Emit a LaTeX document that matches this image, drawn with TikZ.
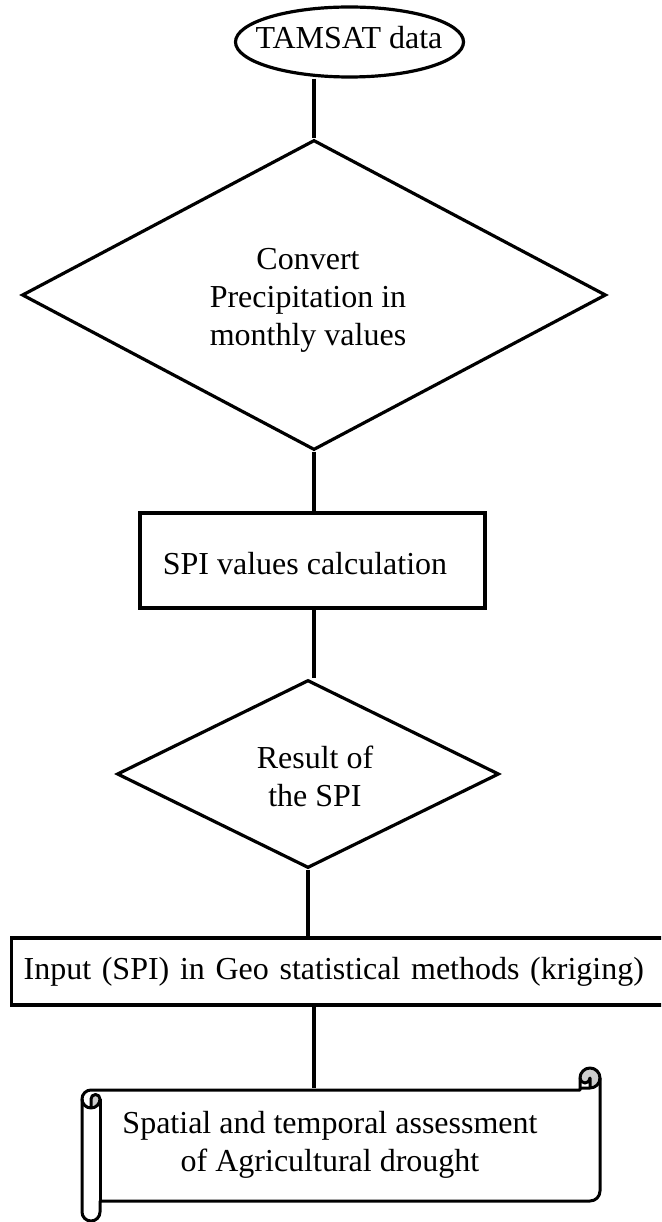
\documentclass[tikz,border=0pt]{standalone}
\usepackage{fontspec}
\setmainfont{Liberation Serif}
\usetikzlibrary{shapes.geometric}
\begin{document}
\begin{tikzpicture}[x=1pt,y=-1pt,line width=3.2pt,
  txt/.style={font=\fontsize{32}{38}\selectfont,align=center,inner sep=0pt},
  shp/.style={draw,line width=3.2pt,inner sep=0pt},
  conn/.style={line width=3.2pt}]
\useasboundingbox (0,0) rectangle (661,1222);
\clip (0,0) rectangle (661,1222);
% ellipse
\node[shp,ellipse,minimum width=228,minimum height=70] (e) at (349.5,42) {};
\node[txt] (etext) at (349,38) {TAMSAT data};
% diamond 1
\node[shp,diamond,minimum width=584,minimum height=310] (d1) at (314,295) {};
\node[txt] (d1text) at (308,300) {Convert\\Precipitation in\\monthly values};
% SPI rectangle
\node[shp,rectangle,minimum width=345,minimum height=95] (r1) at (312.5,560.5) {};
\node[txt] (r1text) at (305,564) {SPI values calculation};
% diamond 2
\node[shp,diamond,minimum width=382,minimum height=188] (d2) at (308,774) {};
\node[txt] (d2text) at (315,776) {Result of\\the SPI};
% input rectangle (runs off the right edge)
\node[shp,rectangle,minimum height=67,text width=640,inner xsep=12pt,align=left,font=\fontsize{32}{38}\selectfont,anchor=west] (r2) at (10,971.5) {Input (SPI) in Geo statistical methods (kriging)};
% scroll
\begin{scope}[shift={(82,1068)},line join=round,line width=3pt]
  \fill[gray!40] (9,40) arc[start angle=90,delta angle=-90,radius=9] arc[start angle=0,delta angle=-180,radius=4.5] -- cycle;
  \fill[gray!40] (508,20) arc[start angle=90,delta angle=-270,radius=10] arc[start angle=180,delta angle=-180,radius=5] -- cycle;
  \draw (0,31) arc[start angle=180,delta angle=90,radius=9] -- (498,22) -- (498,10)
        arc[start angle=180,delta angle=180,radius=10] -- (518,123)
        arc[start angle=0,delta angle=90,radius=10] -- (18,133) -- (18,144)
        arc[start angle=0,delta angle=180,radius=9] -- cycle;
  \draw (498,20) -- (508,20) arc[start angle=90,delta angle=-90,radius=10];
  \draw (508,20) -- (508,10) arc[start angle=0,delta angle=180,radius=5];
  \draw (9,40) -- (9,31) arc[start angle=180,delta angle=180,radius=4.5] arc[start angle=0,delta angle=180,radius=9];
  \draw (18,31) -- (18,133);
  \coordinate (stop) at (232,20);
\end{scope}
\node[txt] (s) at (330,1145) {Spatial and temporal assessment\\of Agricultural drought};
% connectors
\draw[conn] (e.south -| d1.north) -- (d1.north);
\draw[conn] (d1.south) -- (d1.south |- r1.north);
\draw[conn] (r1.south -| d1.south) -- (d1.south |- d2.north);
\draw[conn] (d2.south) -- (d2.south |- r2.north);
\draw[conn] (r2.south -| stop) -- (stop);
\end{tikzpicture}
\end{document}
